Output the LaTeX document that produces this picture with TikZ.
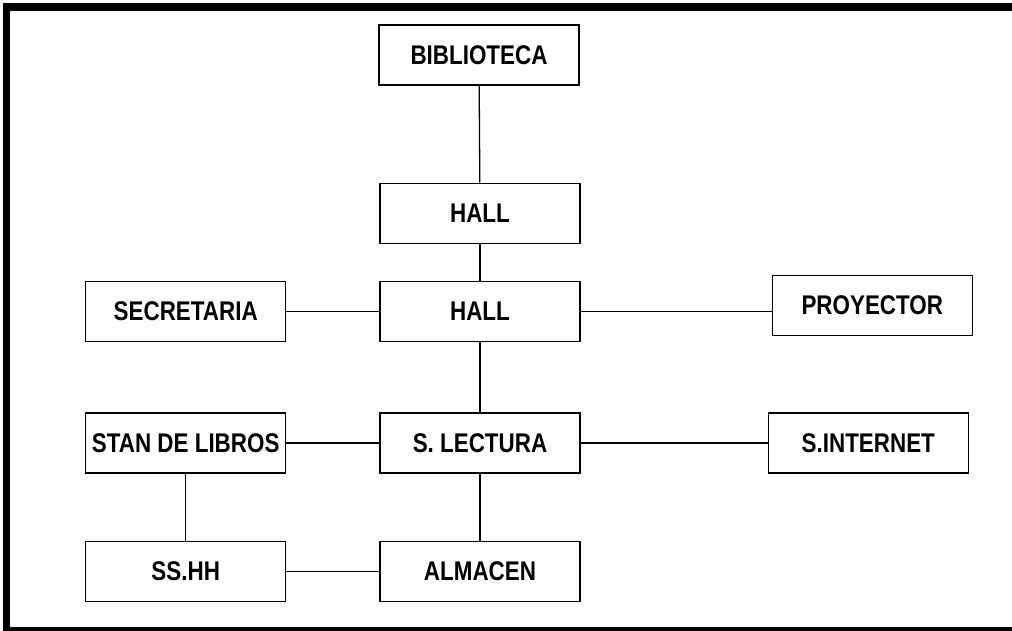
\documentclass[tikz,border=0pt]{standalone}
\usepackage{fontspec}
\setmainfont{Liberation Sans}[FakeStretch=0.83]
\usepackage{tikz}
\usetikzlibrary{positioning}

\begin{document}
\begin{tikzpicture}[
  x=1pt, y=-1pt,
  node distance=70pt and 93pt,
  room/.style={draw, line width=1.3pt, minimum width=200pt, minimum height=60pt,
    inner sep=0pt, font=\fontsize{27}{30}\selectfont\bfseries},
  link/.style={draw, line width=1.3pt}]

  % page and frame
  \useasboundingbox (0,0) rectangle (1012,631);
  \draw[line width=7.5pt] (1020,7) -- (6.5,7) -- (6.5,631) -- (1020,631);

  % main column
  \node[room] (bib) at (479,55) {BIBLIOTECA};
  \node[room, below=97pt of bib, xshift=1pt] (hall1) {HALL};
  \node[room, below=37pt of hall1] (hall2) {HALL};
  \node[room, below=of hall2] (lect) {S. LECTURA};
  \node[room, below=67pt of lect] (alm) {ALMACEN};

  % side rooms
  \node[room, left=of hall2] (sec) {SECRETARIA};
  \node[room, left=of lect] (stan) {STAN DE LIBROS};
  \node[room, left=of alm] (sshh) {SS.HH};
  \node[room, right=191pt of hall2, yshift=6pt] (proy) {PROYECTOR};
  \node[room, right=187pt of lect] (inet) {S.INTERNET};

  % connections
  \draw[link] (bib) -- (hall1);
  \draw[link] (hall1) -- (hall2);
  \draw[link] (hall2) -- (lect);
  \draw[link] (lect) -- (alm);
  \draw[link] (sec) -- (hall2);
  \draw[link] (hall2.east) -- (hall2.east -| proy.west);
  \draw[link] (stan) -- (lect);
  \draw[link] (lect) -- (inet);
  \draw[link] (stan) -- (sshh);
  \draw[link] (sshh) -- (alm);
\end{tikzpicture}
\end{document}
